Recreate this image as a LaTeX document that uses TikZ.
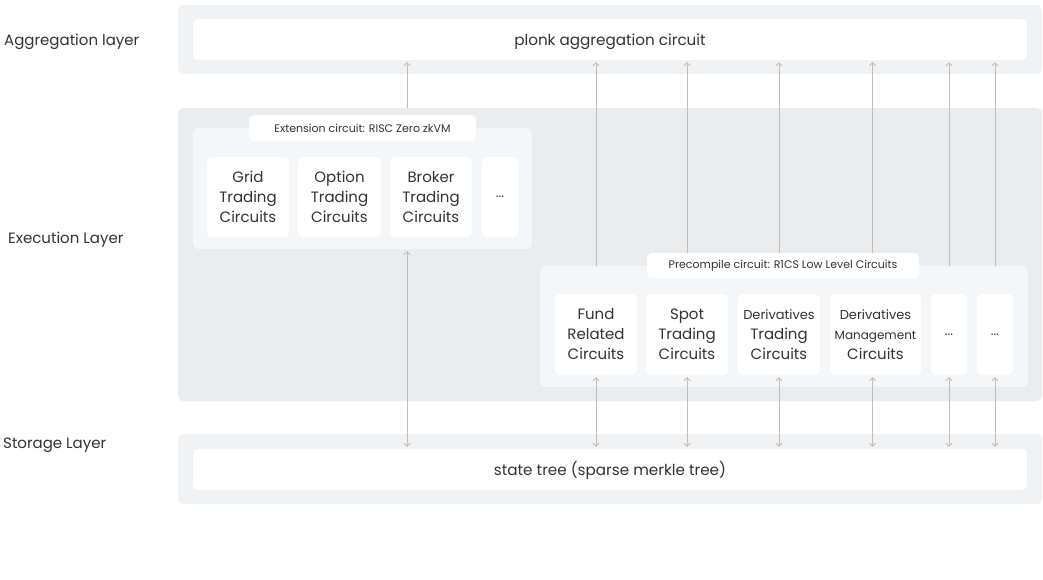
\documentclass[tikz,border=0pt]{standalone}
\usepackage{fontspec}
\setmainfont{Poppins}
\usetikzlibrary{arrows.meta}

\definecolor{ink}{HTML}{333333}
\definecolor{bandfill}{HTML}{F1F2F3}
\definecolor{execfill}{HTML}{EBECEE}
\definecolor{panelfill}{HTML}{F5F6F7}
\definecolor{wire}{HTML}{BDBDBD}

\pgfdeclarelayer{canvas}
\pgfdeclarelayer{bands}
\pgfdeclarelayer{links}
\pgfsetlayers{canvas,bands,links,main}

\tikzset{
  blk/.style={rectangle, inner sep=0pt, text=ink, align=center},
  whitebox/.style={blk, fill=white, rounded corners=5pt},
  cell/.style={whitebox, font=\fontsize{15}{20}\selectfont},
  title/.style={whitebox, font=\fontsize{15.2}{18}\selectfont, text height=13pt, text depth=1.5pt},
  pill/.style={whitebox, font=\fontsize{11}{13}\selectfont},
  more/.style={cell, font=\fontsize{13}{14}\selectfont},
  band/.style={blk, fill=bandfill, rounded corners=6pt},
  panel/.style={blk, fill=panelfill, rounded corners=6pt},
  layerlabel/.style={anchor=west, inner sep=0pt, text=ink, font=\fontsize{15}{17}\selectfont},
  link/.style={draw=wire, line width=0.8pt},
  tip/.tip={Straight Barb[length=3pt, width=6pt, line width=0.8pt]},
  uparrow/.style={link, -tip, shorten >=2pt},
  twoway/.style={link, tip-tip, shorten >=2pt, shorten <=2pt},
}

% \rect{name}{x1}{y1}{x2}{y2}{style}{text}: a node filling the given pixel box
\newcommand\rect[7]{%
  \node[#6, minimum width={(#4-#2)*1pt}, minimum height={(#5-#3)*1pt}]
    (#1) at ({(#2+#4)/2},{(#3+#5)/2}) {#7};}

\begin{document}
\begin{tikzpicture}[x=1pt, y=-1pt]
  \begin{pgfonlayer}{canvas}
    \fill[white] (0,0) rectangle (1043,579);
  \end{pgfonlayer}
  \useasboundingbox (0,0) rectangle (1043,579);

  % layer names on the left
  \node[layerlabel] (lagg) at (4,42) {Aggregation layer};
  \node[layerlabel] (lexe) at (8,240) {Execution Layer};
  \node[layerlabel] (lsto) at (3,445) {Storage Layer};

  % the three layer bands
  \begin{pgfonlayer}{bands}
    \rect{aggband}{178}{5}{1042}{74}{band}{}
    \rect{execband}{178}{108}{1042}{401}{band, fill=execfill}{}
    \rect{storeband}{178}{434}{1042}{504}{band}{}
  \end{pgfonlayer}

  % aggregation and storage circuits
  \rect{agg}{193}{19}{1027}{60}{title}{plonk aggregation circuit}
  \rect{store}{193}{449}{1027}{490}{title}{state tree (sparse merkle tree)}

  % extension circuits
  \rect{extpanel}{193}{128}{532}{249}{panel}{}
  \rect{extlabel}{249}{115}{476}{141}{pill}{Extension circuit: RISC Zero zkVM}
  \rect{grid}{207}{157}{289}{237}{cell}{Grid\\Trading\\Circuits}
  \rect{option}{298}{157}{381}{237}{cell}{Option\\Trading\\Circuits}
  \rect{broker}{390}{157}{472}{237}{cell}{Broker\\Trading\\Circuits}
  \rect{extmore}{482}{157}{518}{237}{more}{...}

  % precompile circuits
  \rect{prepanel}{540}{266}{1028}{387}{panel}{}
  \rect{prelabel}{647}{253}{919}{278}{pill}{Precompile circuit: R1CS Low Level Circuits}
  \rect{fund}{555}{294}{637}{375}{cell}{Fund\\Related\\Circuits}
  \rect{spot}{646}{294}{728}{375}{cell}{Spot\\Trading\\Circuits}
  \rect{dtrade}{738}{294}{820}{375}{cell}{{\fontsize{13}{20}\selectfont Derivatives}\\Trading\\Circuits}
  \rect{dmgmt}{830}{294}{921}{375}{cell}{{\fontsize{13}{20}\selectfont Derivatives}\\{\fontsize{12}{20}\selectfont Management}\\Circuits}
  \rect{premoreA}{931}{294}{967}{375}{more}{...}
  \rect{premoreB}{977}{294}{1013}{375}{more}{...}

  \coordinate (extport) at (407,0);

  % proofs passed up to the aggregation circuit
  \begin{pgfonlayer}{links}
    \draw[uparrow] (execband.north -| extport) -- (agg.south -| extport);
    \draw[uparrow] (fund.north) -- (fund.north |- agg.south);
    \draw[uparrow] (spot.north) -- (spot.north |- agg.south);
    \draw[uparrow] (dtrade.north) -- (dtrade.north |- agg.south);
    \draw[uparrow] ([xshift=-3pt]dmgmt.north) -- ([xshift=-3pt]dmgmt.north |- agg.south);
    \draw[uparrow] (premoreA.north) -- (premoreA.north |- agg.south);
    \draw[uparrow] (premoreB.north) -- (premoreB.north |- agg.south);
  \end{pgfonlayer}

  % state reads and writes against the state tree
  \draw[twoway] (extpanel.south -| extport) -- (store.north -| extport);
  \draw[twoway] (fund.south) -- (fund.south |- store.north);
  \draw[twoway] (spot.south) -- (spot.south |- store.north);
  \draw[twoway] (dtrade.south) -- (dtrade.south |- store.north);
  \draw[twoway] ([xshift=-3pt]dmgmt.south) -- ([xshift=-3pt]dmgmt.south |- store.north);
  \draw[twoway] (premoreA.south) -- (premoreA.south |- store.north);
  \draw[twoway] (premoreB.south) -- (premoreB.south |- store.north);
\end{tikzpicture}
\end{document}
